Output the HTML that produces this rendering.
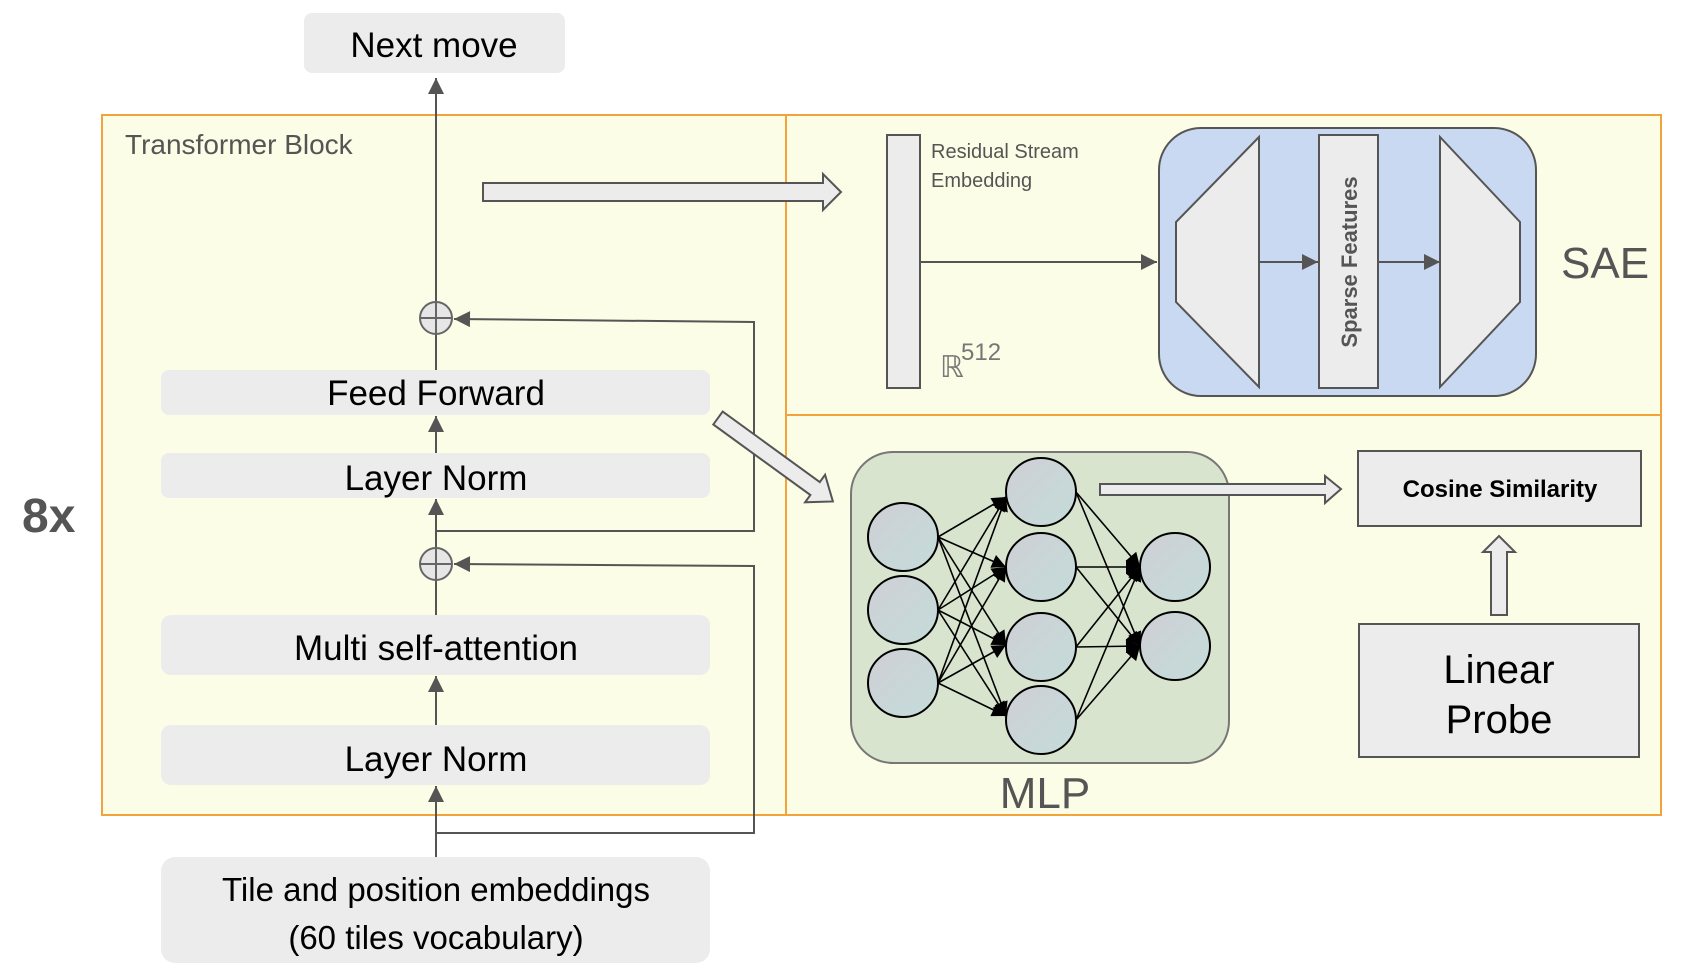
<!DOCTYPE html>
<html><head><meta charset="utf-8"><style>
html,body{margin:0;padding:0;background:#fff;}
svg{display:block;}
text{font-family:"Liberation Sans",sans-serif;}
</style></head><body>
<svg width="1708" height="980" viewBox="0 0 1708 980" xmlns="http://www.w3.org/2000/svg">
<defs>
<marker id="ahg" viewBox="0 0 10 10" markerWidth="20" markerHeight="16" refX="10" refY="5" orient="auto" markerUnits="userSpaceOnUse"><path d="M0,0 L10,5 L0,10 z" fill="#555"/></marker>
<marker id="ab" viewBox="0 0 10 10" markerWidth="18" markerHeight="14" refX="10" refY="5" orient="auto" markerUnits="userSpaceOnUse"><path d="M0,0 L10,5 L0,10 z" fill="#000"/></marker>
<linearGradient id="ng" x1="0" y1="0" x2="1" y2="1"><stop offset="0" stop-color="#cfcfd6"/><stop offset="1" stop-color="#c4dcd8"/></linearGradient>
</defs>

<rect x="102" y="115" width="1559" height="700" fill="#fbfde6" stroke="#f4a23a" stroke-width="2"/>
<line x1="786" y1="115" x2="786" y2="815" stroke="#f4a23a" stroke-width="2"/>
<line x1="786" y1="415" x2="1661" y2="415" stroke="#f4a23a" stroke-width="2"/>

<text x="22" y="532" font-size="48" font-weight="bold" fill="#555">8x</text>
<text x="125" y="154" font-size="28" fill="#555">Transformer Block</text>

<rect x="304" y="13" width="261" height="60" rx="8" fill="#ececec"/>
<text x="434" y="57" font-size="35" text-anchor="middle" fill="#000">Next move</text>

<line x1="436" y1="301" x2="436" y2="78" stroke="#555" stroke-width="2" marker-end="url(#ahg)"/>
<line x1="436" y1="370" x2="436" y2="334" stroke="#555" stroke-width="2"/>
<line x1="436" y1="453" x2="436" y2="416" stroke="#555" stroke-width="2" marker-end="url(#ahg)"/>
<line x1="436" y1="547" x2="436" y2="499" stroke="#555" stroke-width="2" marker-end="url(#ahg)"/>
<line x1="436" y1="615" x2="436" y2="580" stroke="#555" stroke-width="2"/>
<line x1="436" y1="725" x2="436" y2="676" stroke="#555" stroke-width="2" marker-end="url(#ahg)"/>
<line x1="436" y1="857" x2="436" y2="786" stroke="#555" stroke-width="2" marker-end="url(#ahg)"/>

<polyline points="436,531 754,531 754,322 454,319" fill="none" stroke="#555" stroke-width="2" marker-end="url(#ahg)"/>
<polyline points="436,833 754,833 754,566 454,564" fill="none" stroke="#555" stroke-width="2" marker-end="url(#ahg)"/>

<g stroke="#666" stroke-width="2" fill="#e6e6e6">
<circle cx="436" cy="318" r="16"/><line x1="420" y1="318" x2="452" y2="318"/><line x1="436" y1="302" x2="436" y2="334"/>
<circle cx="436" cy="564" r="16"/><line x1="420" y1="564" x2="452" y2="564"/><line x1="436" y1="548" x2="436" y2="580"/>
</g>

<rect x="161" y="370" width="549" height="45" rx="8" fill="#ececec"/>
<text x="436" y="405" font-size="35" text-anchor="middle">Feed Forward</text>
<rect x="161" y="453" width="549" height="45" rx="8" fill="#ececec"/>
<text x="436" y="490" font-size="35" text-anchor="middle">Layer Norm</text>
<rect x="161" y="615" width="549" height="60" rx="10" fill="#ececec"/>
<text x="436" y="660" font-size="35" text-anchor="middle">Multi self-attention</text>
<rect x="161" y="725" width="549" height="60" rx="10" fill="#ececec"/>
<text x="436" y="771" font-size="35" text-anchor="middle">Layer Norm</text>
<rect x="161" y="857" width="549" height="106" rx="14" fill="#ececec"/>
<text x="436" y="901" font-size="33" text-anchor="middle">Tile and position embeddings</text>
<text x="436" y="949" font-size="33" text-anchor="middle">(60 tiles vocabulary)</text>

<polygon points="483,183 823,183 823,174 841,192 823,210 823,201 483,201" fill="#ececec" stroke="#555" stroke-width="2"/>
<g transform="translate(718,418) rotate(36)">
<polygon points="0,-8 120,-8 120,-17 142,0 120,17 120,8 0,8" fill="#ececec" stroke="#555" stroke-width="2"/>
</g>
<polygon points="1491,615 1491,552 1483,552 1499,536 1515,552 1507,552 1507,615" fill="#ececec" stroke="#555" stroke-width="2"/>

<rect x="887" y="135" width="33" height="253" fill="#ececec" stroke="#555" stroke-width="2"/>
<text x="931" y="158" font-size="20" fill="#555">Residual Stream</text>
<text x="931" y="187" font-size="20" fill="#555">Embedding</text>
<text x="940" y="377" font-size="30" fill="#777" font-family="Liberation Serif,serif">ℝ</text>
<text x="961" y="360" font-size="24" fill="#777">512</text>
<line x1="920" y1="262" x2="1157" y2="262" stroke="#555" stroke-width="2" marker-end="url(#ahg)"/>
<rect x="1159" y="128" width="377" height="268" rx="42" fill="#c9d9f2" stroke="#555" stroke-width="2"/>
<polygon points="1259,137 1259,387 1176,302 1176,222" fill="#ececec" stroke="#555" stroke-width="2"/>
<rect x="1319" y="135" width="59" height="253" fill="#ececec" stroke="#555" stroke-width="2"/>
<text transform="translate(1357,262) rotate(-90)" font-size="22" font-weight="bold" fill="#555" text-anchor="middle">Sparse Features</text>
<polygon points="1440,137 1440,387 1520,302 1520,222" fill="#ececec" stroke="#555" stroke-width="2"/>
<line x1="1259" y1="262" x2="1318" y2="262" stroke="#555" stroke-width="2" marker-end="url(#ahg)"/>
<line x1="1378" y1="262" x2="1440" y2="262" stroke="#555" stroke-width="2" marker-end="url(#ahg)"/>
<text x="1561" y="278" font-size="44" fill="#555">SAE</text>

<rect x="851" y="452" width="378" height="311" rx="42" fill="#d9e4cf" stroke="#777" stroke-width="2"/>
<g stroke="#000" stroke-width="1.6" marker-end="url(#ab)">
<line x1="938" y1="537" x2="1006" y2="497"/><line x1="938" y1="537" x2="1006" y2="567"/><line x1="938" y1="537" x2="1006" y2="645"/><line x1="938" y1="537" x2="1006" y2="716"/>
<line x1="938" y1="610" x2="1006" y2="497"/><line x1="938" y1="610" x2="1006" y2="567"/><line x1="938" y1="610" x2="1006" y2="645"/><line x1="938" y1="610" x2="1006" y2="716"/>
<line x1="938" y1="683" x2="1006" y2="497"/><line x1="938" y1="683" x2="1006" y2="567"/><line x1="938" y1="683" x2="1006" y2="645"/><line x1="938" y1="683" x2="1006" y2="716"/>
<line x1="1076" y1="492" x2="1140" y2="567"/><line x1="1076" y1="492" x2="1140" y2="646"/>
<line x1="1076" y1="567" x2="1140" y2="567"/><line x1="1076" y1="567" x2="1140" y2="646"/>
<line x1="1076" y1="647" x2="1140" y2="567"/><line x1="1076" y1="647" x2="1140" y2="646"/>
<line x1="1076" y1="720" x2="1140" y2="567"/><line x1="1076" y1="720" x2="1140" y2="646"/>
</g>
<g fill="url(#ng)" stroke="#000" stroke-width="2">
<ellipse cx="903" cy="537" rx="35" ry="34"/><ellipse cx="903" cy="610" rx="35" ry="34"/><ellipse cx="903" cy="683" rx="35" ry="34"/>
<ellipse cx="1041" cy="492" rx="35" ry="34"/><ellipse cx="1041" cy="567" rx="35" ry="34"/><ellipse cx="1041" cy="647" rx="35" ry="34"/><ellipse cx="1041" cy="720" rx="35" ry="34"/>
<ellipse cx="1175" cy="567" rx="35" ry="34"/><ellipse cx="1175" cy="646" rx="35" ry="34"/>
</g>
<text x="1045" y="808" font-size="44" fill="#555" text-anchor="middle">MLP</text>

<polygon points="1100,484 1325,484 1325,476 1341,489 1325,503 1325,495 1100,495" fill="#ececec" stroke="#555" stroke-width="2"/>

<rect x="1358" y="451" width="283" height="75" fill="#ececec" stroke="#555" stroke-width="2"/>
<text x="1500" y="497" font-size="24" font-weight="bold" text-anchor="middle">Cosine Similarity</text>
<rect x="1359" y="624" width="280" height="133" fill="#ececec" stroke="#555" stroke-width="2"/>
<text x="1499" y="683" font-size="40" text-anchor="middle">Linear</text>
<text x="1499" y="733" font-size="40" text-anchor="middle">Probe</text>
</svg>
</body></html>
